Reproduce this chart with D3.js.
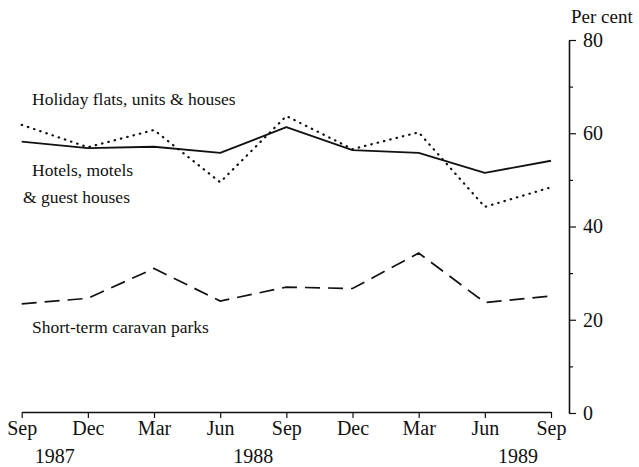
<!DOCTYPE html>
<html>
<head>
<meta charset="utf-8">
<script src="https://cdn.jsdelivr.net/npm/d3@7"></script>
<style>
  body { margin: 0; background: #fff; }
  svg { display: block; font-family: "Liberation Serif", "DejaVu Serif", serif; }
</style>
</head>
<body>
<div id="chart"></div>
<script>
// quarters along the bottom axis
const quarters = ["Sep 1987", "Dec 1987", "Mar 1988", "Jun 1988", "Sep 1988",
                  "Dec 1988", "Mar 1989", "Jun 1989", "Sep 1989"];
const monthLabels = ["Sep", "Dec", "Mar", "Jun", "Sep", "Dec", "Mar", "Jun", "Sep"];
const yearLabels = ["1987", "1988", "1989"];
const yearAfter = ["Sep 1987", "Jun 1988", "Jun 1989"]; // year sits between this quarter and the next

// occupancy rates, per cent
const holidayFlats = [61.8, 57.0, 60.7, 49.5, 63.7, 56.6, 60.2, 44.2, 48.4];
const hotelsMotels = [58.2, 56.8, 57.1, 55.8, 61.3, 56.4, 55.8, 51.5, 54.1];
const caravanParks = [23.4, 24.6, 31.0, 24.0, 27.0, 26.7, 34.3, 23.7, 25.1];

const yTicks = [0, 20, 40, 60, 80];
const yMinorTicks = [10, 30, 50, 70];

const width = 639, height = 467;

const svg = d3.select('#chart')
  .append('svg')
    .attr('width', width)
    .attr('height', height);

const x = d3.scalePoint()
  .domain(quarters)
  .range([21.7, 551]);

const y = d3.scaleLinear()
  .domain([0, 80])
  .range([413, 40]);

const step = x.step();

// bottom axis
const xAxis = svg.append('g')
  .attr('transform', `translate(0,${y(0) - 1})`)
  .call(d3.axisBottom(x)
    .tickSize(6)
    .tickSizeOuter(0)
    .tickPadding(3)
    .tickFormat((d, i) => monthLabels[i]));

xAxis.select('.domain').attr('stroke', '#111').attr('stroke-width', 1.5);
xAxis.selectAll('.tick line').attr('stroke', '#111').attr('stroke-width', 1.2);
xAxis.selectAll('.tick text')
  .style('font-family', '"Liberation Serif", serif')
  .style('font-size', '20px')
  .attr('fill', '#111');

svg.selectAll('.year-label')
  .data(yearLabels)
  .join('text')
  .attr('class', 'year-label')
  .attr('x', (d, i) => x(yearAfter[i]) + step / 2)
  .attr('y', 463)
  .attr('text-anchor', 'middle')
  .style('font-size', '20px')
  .attr('fill', '#111')
  .text(d => d);

// right axis
const yAxisX = 569;
const yAxis = svg.append('g')
  .attr('transform', `translate(${yAxisX},0)`)
  .call(d3.axisRight(y)
    .tickValues(yTicks)
    .tickSize(7)
    .tickSizeOuter(0)
    .tickPadding(7)
    .tickFormat(d3.format('d')));

yAxis.select('.domain').attr('stroke', '#111').attr('stroke-width', 1.6);
yAxis.selectAll('.tick line').attr('stroke', '#111').attr('stroke-width', 1.2);
yAxis.selectAll('.tick text')
  .style('font-family', '"Liberation Serif", serif')
  .style('font-size', '20px')
  .attr('fill', '#111');

svg.append('g')
  .attr('transform', `translate(${yAxisX},0)`)
  .call(d3.axisRight(y).tickValues(yMinorTicks).tickSize(4).tickFormat(''))
  .call(g => g.select('.domain').remove())
  .selectAll('.tick line')
    .attr('stroke', '#111')
    .attr('stroke-width', 1.2);

svg.append('text')
  .attr('x', 571)
  .attr('y', 23)
  .style('font-size', '19px')
  .attr('fill', '#111')
  .text('Per cent');

// series lines
const line = d3.line()
  .x((d, i) => x(quarters[i]))
  .y(d => y(d));

svg.append('path')
  .datum(hotelsMotels)
  .attr('d', line)
  .attr('fill', 'none')
  .attr('stroke', '#111')
  .attr('stroke-width', 1.8)
  .attr('stroke-linejoin', 'round');

svg.append('path')
  .datum(holidayFlats)
  .attr('d', line)
  .attr('fill', 'none')
  .attr('stroke', '#111')
  .attr('stroke-width', 2.2)
  .attr('stroke-linecap', 'round')
  .attr('stroke-dasharray', '0.5,6');

svg.append('path')
  .datum(caravanParks)
  .attr('d', line)
  .attr('fill', 'none')
  .attr('stroke', '#111')
  .attr('stroke-width', 1.7)
  .attr('stroke-dasharray', '15,8');

// series labels
const labels = [
  { text: 'Holiday flats, units & houses', x: 32, y: 105 },
  { text: 'Hotels, motels', x: 32, y: 176 },
  { text: '& guest houses', x: 23, y: 203 },
  { text: 'Short-term caravan parks', x: 32, y: 333 }
];

svg.selectAll('.series-label')
  .data(labels)
  .join('text')
  .attr('class', 'series-label')
  .attr('x', d => d.x)
  .attr('y', d => d.y)
  .style('font-size', '17.5px')
  .attr('fill', '#111')
  .text(d => d.text);
</script>
</body>
</html>
